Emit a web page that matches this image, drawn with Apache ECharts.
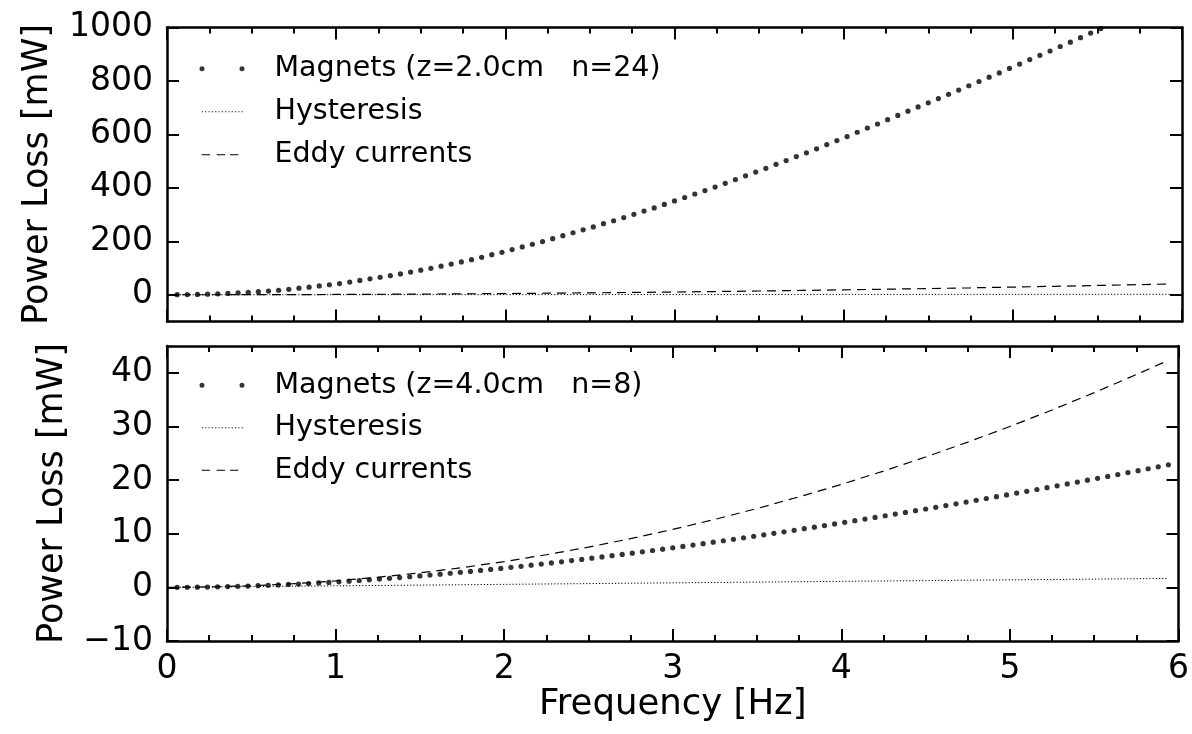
<!DOCTYPE html>
<html>
<head>
<meta charset="utf-8">
<script src="https://cdn.jsdelivr.net/npm/echarts@6/dist/echarts.min.js"></script>
<style>
  html, body { margin: 0; padding: 0; background: #fff; }
  #chart { width: 1192px; height: 734px; }
</style>
</head>
<body>
<div id="chart"></div>
<script>
// sample frequencies of the measured points [Hz]
const magnetFreq = [
    0.06, 0.12, 0.18, 0.24, 0.3, 0.36, 0.42, 0.48, 0.54, 0.6,
    0.66, 0.72, 0.78, 0.84, 0.9, 0.96, 1.02, 1.08, 1.14, 1.2,
    1.26, 1.32, 1.38, 1.44, 1.5, 1.56, 1.62, 1.68, 1.74, 1.8,
    1.86, 1.92, 1.98, 2.04, 2.1, 2.16, 2.22, 2.28, 2.34, 2.4,
    2.46, 2.52, 2.58, 2.64, 2.7, 2.76, 2.82, 2.88, 2.94, 3,
    3.06, 3.12, 3.18, 3.24, 3.3, 3.36, 3.42, 3.48, 3.54, 3.6,
    3.66, 3.72, 3.78, 3.84, 3.9, 3.96, 4.02, 4.08, 4.14, 4.2,
    4.26, 4.32, 4.38, 4.44, 4.5, 4.56, 4.62, 4.68, 4.74, 4.8,
    4.86, 4.92, 4.98, 5.04, 5.1, 5.16, 5.22, 5.28, 5.34, 5.4,
    5.46, 5.52, 5.58, 5.64, 5.7, 5.76, 5.82, 5.88, 5.94
];

// z=2.0cm n=24 (the rest is above 1000 mW, off the plot)
const magnetsTop = [
    0.2, 0.6, 1.3, 2.3, 3.5, 5, 7, 9, 11.5, 14,
    17, 20.5, 24.5, 28.5, 33, 37.5, 42, 47.5, 53.5, 59.5,
    65.5, 71.5, 78, 85, 92, 99, 107, 115, 123, 131.5,
    140, 150, 159, 169, 179, 189, 199, 210, 221, 232,
    243, 254, 266, 277, 289, 301, 313, 325, 338, 351,
    364, 377, 390, 403, 417, 431, 445, 459, 473, 488,
    502, 517, 531, 546, 562, 577, 592, 608, 624, 639,
    655, 671, 687, 703, 718, 734, 750, 766, 782, 798,
    814, 830, 847, 863, 880, 896, 912, 929, 945, 962,
    979, 996
];

// z=4.0cm n=8
const magnetsBottom = [
    0.00, 0.02, 0.04, 0.06, 0.10, 0.14, 0.19, 0.24, 0.31, 0.38,
    0.45, 0.54, 0.62, 0.72, 0.82, 0.93, 1.04, 1.16, 1.28, 1.41,
    1.54, 1.68, 1.83, 1.98, 2.13, 2.29, 2.46, 2.63, 2.80, 2.98,
    3.16, 3.35, 3.54, 3.73, 3.93, 4.14, 4.34, 4.56, 4.77, 4.99,
    5.21, 5.44, 5.67, 5.90, 6.14, 6.38, 6.62, 6.87, 7.12, 7.37,
    7.63, 7.89, 8.15, 8.42, 8.69, 8.96, 9.23, 9.51, 9.79, 10.07,
    10.36, 10.64, 10.94, 11.23, 11.52, 11.82, 12.12, 12.43, 12.73, 13.04,
    13.35, 13.66, 13.97, 14.29, 14.61, 14.93, 15.25, 15.58, 15.91, 16.23,
    16.57, 16.90, 17.23, 17.57, 17.91, 18.25, 18.59, 18.94, 19.28, 19.63,
    19.98, 20.33, 20.69, 21.04, 21.40, 21.76, 22.11, 22.48, 22.84
];

// model curves
const curveFreq = [0, 0.25, 0.5, 0.75, 1, 1.25, 1.5, 1.75, 2, 2.25, 2.5, 2.75, 3,
    3.25, 3.5, 3.75, 4, 4.25, 4.5, 4.75, 5, 5.25, 5.5, 5.75, 5.94];
const hystTop = [0, 0.08, 0.15, 0.23, 0.3, 0.38, 0.45, 0.53, 0.6, 0.68, 0.75, 0.83, 0.9,
    0.98, 1.05, 1.13, 1.2, 1.28, 1.35, 1.43, 1.5, 1.58, 1.65, 1.73, 1.78];
const eddyTop = [0, 0.07, 0.29, 0.65, 1.15, 1.8, 2.59, 3.52, 4.6, 5.82, 7.19, 8.7, 10.35,
    12.15, 14.09, 16.17, 18.4, 20.77, 23.29, 25.95, 28.75, 31.7, 34.79, 38.02, 40.58];
const hystBottom = [0, 0.07, 0.14, 0.21, 0.28, 0.35, 0.42, 0.49, 0.56, 0.63, 0.7, 0.77, 0.84,
    0.91, 0.98, 1.05, 1.12, 1.19, 1.26, 1.33, 1.4, 1.47, 1.54, 1.61, 1.66];
const eddyBottom = [0, 0.08, 0.3, 0.68, 1.2, 1.88, 2.7, 3.68, 4.8, 6.08, 7.5, 9.08, 10.8,
    12.68, 14.7, 16.88, 19.2, 21.68, 24.3, 27.08, 30, 33.08, 36.3, 39.68, 42.34];

const topTicks = [0, 200, 400, 600, 800, 1000];
const bottomTicks = [-10, 0, 10, 20, 30, 40];

const nameTop = 'Magnets (z=2.0cm   n=24)';
const nameBottom = 'Magnets (z=4.0cm   n=8)';

const FONT = 'DejaVu Sans';

function pairs(xs, ys) {
    const out = [];
    for (let i = 0; i < ys.length; i++) out.push([xs[i], ys[i]]);
    return out;
}

// legend icons, all in the same 70x5 box so the text lines up
const pad = 'M0,0h0.01v0.01h-0.01z M69.99,4.99h0.01v0.01h-0.01z ';
function dotsIcon() {
    return 'path://' + pad +
        'M0,2.5a2.5,2.5 0 1,0 5,0a2.5,2.5 0 1,0 -5,0z ' +
        'M40,2.5a2.5,2.5 0 1,0 5,0a2.5,2.5 0 1,0 -5,0z';
}
function dottedIcon() {
    let p = 'path://' + pad;
    for (let x = 2.5; x < 43; x += 3.3) p += 'M' + x + ',2h1.1v1h-1.1z ';
    return p;
}
function dashedIcon() {
    let p = 'path://' + pad;
    [[2.2, 10.5], [17.2, 25.5], [30.5, 38.8]].forEach(d => {
        p += 'M' + d[0] + ',1.9H' + d[1] + 'V3.1H' + d[0] + 'z ';
    });
    return p;
}

const minus = v => (v < 0 ? '\u2212' + Math.abs(v) : String(v));

function xAxis(gridIndex, position, withLabels) {
    return {
        type: 'value', gridIndex: gridIndex, position: position,
        min: 0, max: 6, interval: 1,
        axisLine: { onZero: false, lineStyle: { color: '#000', width: 2.5 } },
        axisTick: { inside: true, length: 12, lineStyle: { color: '#000', width: 2 } },
        minorTick: { show: true, splitNumber: 4, length: 6, lineStyle: { color: '#000', width: 2 } },
        splitLine: { show: false },
        axisLabel: {
            show: withLabels, color: '#000', fontSize: 33, fontFamily: FONT, margin: 12
        },
        name: withLabels ? 'Frequency [Hz]' : '',
        nameLocation: 'middle', nameGap: 44,
        nameTextStyle: { color: '#000', fontSize: 35.5, fontFamily: FONT }
    };
}

function yAxis(gridIndex, position, min, max, ticks, name, gap) {
    const left = position === 'left';
    return {
        type: 'value', gridIndex: gridIndex, position: position,
        min: min, max: max,
        axisLine: { onZero: false, lineStyle: { color: '#000', width: 2.5 } },
        axisTick: { inside: true, length: 12, customValues: ticks, lineStyle: { color: '#000', width: 2 } },
        splitLine: { show: false },
        axisLabel: {
            show: left, customValues: ticks, formatter: minus,
            color: '#000', fontSize: 33, fontFamily: FONT, margin: 14
        },
        name: left ? name : '',
        nameLocation: 'middle', nameRotate: 90, nameGap: gap,
        nameTextStyle: { color: '#000', fontSize: 35, fontFamily: FONT }
    };
}

function legend(top, gap, magnetsName) {
    return {
        left: 199.5, top: top, orient: 'vertical', padding: 0,
        itemGap: gap, itemWidth: 70, itemHeight: 5,
        selectedMode: false,
        itemStyle: { borderWidth: 0 },
        textStyle: { color: '#000', fontSize: 28.5, fontFamily: FONT, lineHeight: 28.5 },
        data: [
            { name: magnetsName, icon: dotsIcon() },
            { name: 'Hysteresis', icon: dottedIcon() },
            { name: 'Eddy currents', icon: dashedIcon() }
        ]
    };
}

function dots(name, idx, data) {
    return {
        name: name, type: 'scatter', xAxisIndex: idx, yAxisIndex: idx,
        symbol: 'circle', symbolSize: 5.2, z: 5,
        itemStyle: { color: '#000' },
        data: data
    };
}

function curve(name, idx, data, dash, width) {
    return {
        name: name, type: 'line', xAxisIndex: idx, yAxisIndex: idx,
        showSymbol: false, symbol: 'none',
        itemStyle: { color: '#000' },
        lineStyle: { color: '#000', width: width, type: dash },
        data: data
    };
}

const chart = echarts.init(document.getElementById('chart'));

chart.setOption({
    animation: false,
    backgroundColor: '#fff',
    textStyle: { fontFamily: FONT },
    grid: [
        { left: 167, right: 10, top: 27.5, height: 294 },
        { left: 167, right: 10, top: 346, height: 295 }
    ],
    xAxis: [
        xAxis(0, 'bottom', false),
        xAxis(1, 'bottom', true),
        xAxis(0, 'top', false),
        xAxis(1, 'top', false)
    ],
    yAxis: [
        yAxis(0, 'left', -100, 1000, topTicks, 'Power Loss [mW]', 112),
        yAxis(1, 'left', -10, 45, bottomTicks, 'Power Loss [mW]', 97),
        yAxis(0, 'right', -100, 1000, topTicks),
        yAxis(1, 'right', -10, 45, bottomTicks)
    ],
    legend: [
        legend(54.25, 14, nameTop),
        legend(370.75, 13.5, nameBottom)
    ],
    series: [
        curve('Hysteresis', 0, pairs(curveFreq, hystTop), [1.2, 2], 1),
        curve('Eddy currents', 0, pairs(curveFreq, eddyTop), [9, 6], 1.2),
        dots(nameTop, 0, pairs(magnetFreq, magnetsTop)),
        curve('Hysteresis', 1, pairs(curveFreq, hystBottom), [1.2, 2], 1),
        curve('Eddy currents', 1, pairs(curveFreq, eddyBottom), [9, 6], 1.2),
        dots(nameBottom, 1, pairs(magnetFreq, magnetsBottom))
    ]
});
</script>
</body>
</html>
